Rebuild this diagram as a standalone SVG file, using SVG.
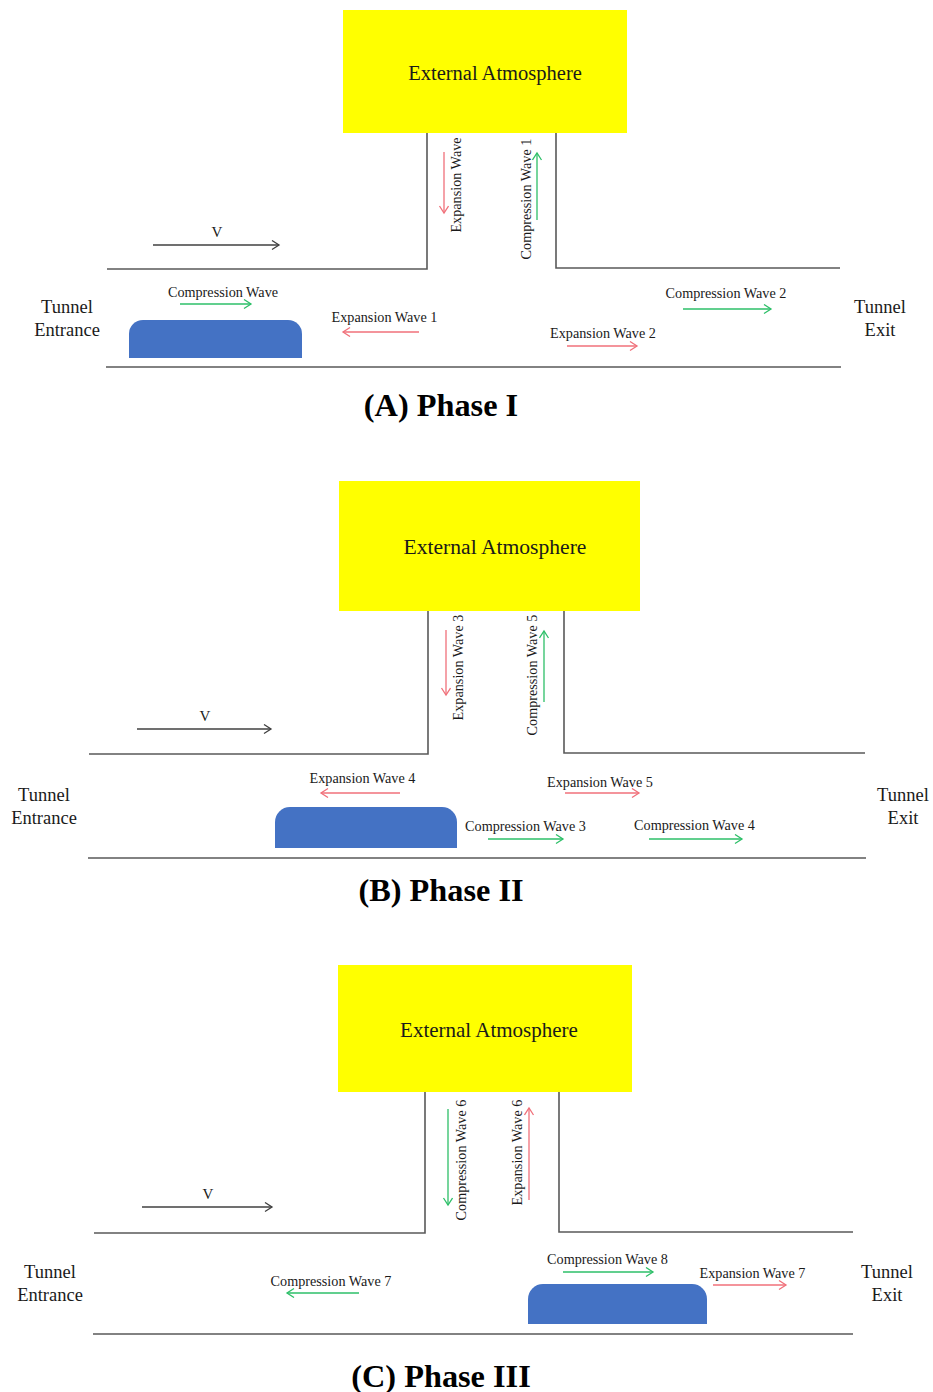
<svg xmlns="http://www.w3.org/2000/svg" width="933" height="1392" viewBox="0 0 933 1392">
<style>
.wall{stroke:#595959;stroke-width:1.6;fill:none}
.atm{fill:#ffff00}
.train{fill:#4472c4}
.t{font-family:"Liberation Serif","Times New Roman",serif;fill:#1a1a1a}
.big{font-size:20.5px;text-anchor:middle}
.lbl{font-size:14.2px;text-anchor:middle}
.side{font-size:18.5px;text-anchor:middle}
.title{font-size:32.3px;font-weight:bold;text-anchor:middle;fill:#000}
.v{font-size:15px;text-anchor:middle}
.ar{stroke:#f0707a;stroke-width:1.3;fill:none;marker-end:url(#mr)}
.ag{stroke:#2dbf68;stroke-width:1.3;fill:none;marker-end:url(#mg)}
.ak{stroke:#404040;stroke-width:1.3;fill:none;marker-end:url(#mk)}
</style>
<defs>
<marker id="mr" markerUnits="userSpaceOnUse" markerWidth="12" markerHeight="12" refX="8" refY="5" orient="auto"><path d="M1,0.5 L8,5 L1,9.5" fill="none" stroke="#f0707a" stroke-width="1.3"/></marker>
<marker id="mg" markerUnits="userSpaceOnUse" markerWidth="12" markerHeight="12" refX="8" refY="5" orient="auto"><path d="M1,0.5 L8,5 L1,9.5" fill="none" stroke="#2dbf68" stroke-width="1.3"/></marker>
<marker id="mk" markerUnits="userSpaceOnUse" markerWidth="12" markerHeight="12" refX="8" refY="5" orient="auto"><path d="M1,0.5 L8,5 L1,9.5" fill="none" stroke="#404040" stroke-width="1.3"/></marker>
</defs>
<rect width="933" height="1392" fill="#fff"/>

<!-- Phase A -->
<g id="phaseA">
  <g id="A-atmosphere">
    <rect class="atm" x="343" y="10" width="284" height="123"/>
    <text class="t big" x="495" y="80">External Atmosphere</text>
  </g>
  <g id="A-tunnel">
    <path class="wall" d="M107,269 H427 V133"/>
    <path class="wall" d="M556,133 V268 H840"/>
    <path class="wall" d="M106,367 H841"/>
  </g>
  <g id="A-train"><path class="train" d="M129,358 V334 A14,14 0 0 1 143,320 H288 A14,14 0 0 1 302,334 V358 Z"/></g>
  <g id="A-entrance"><text class="t side" x="67" y="313">Tunnel</text><text class="t side" x="67" y="336">Entrance</text></g>
  <g id="A-exit"><text class="t side" x="880" y="313">Tunnel</text><text class="t side" x="880" y="336">Exit</text></g>
  <g id="A-labels">
    <text class="t v" x="217" y="237">V</text>
    <text class="t lbl" x="223" y="297">Compression Wave</text>
    <text class="t lbl" x="384.5" y="322">Expansion Wave 1</text>
    <text class="t lbl" x="726" y="298">Compression Wave 2</text>
    <text class="t lbl" x="603" y="338">Expansion Wave 2</text>
    <text class="t lbl" transform="translate(461,185) rotate(-90)">Expansion Wave</text>
    <text class="t lbl" transform="translate(531,199) rotate(-90)">Compression Wave 1</text>
  </g>
  <g id="A-title"><text class="t title" x="441" y="416">(A) Phase I</text></g>
</g>

<!-- Phase B -->
<g id="phaseB">
  <g id="B-atmosphere">
    <rect class="atm" x="339" y="481" width="301" height="130"/>
    <text class="t big" x="495" y="554" style="font-size:21.6px">External Atmosphere</text>
  </g>
  <g id="B-tunnel">
    <path class="wall" d="M89,754 H428 V611"/>
    <path class="wall" d="M564,611 V753 H865"/>
    <path class="wall" d="M88,858 H866"/>
  </g>
  <g id="B-train"><path class="train" d="M275,848 V822 A15,15 0 0 1 290,807 H442 A15,15 0 0 1 457,822 V848 Z"/></g>
  <g id="B-entrance"><text class="t side" x="44" y="801">Tunnel</text><text class="t side" x="44" y="824">Entrance</text></g>
  <g id="B-exit"><text class="t side" x="903" y="801">Tunnel</text><text class="t side" x="903" y="824">Exit</text></g>
  <g id="B-labels">
    <text class="t v" x="205" y="721">V</text>
    <text class="t lbl" x="362.5" y="783">Expansion Wave 4</text>
    <text class="t lbl" x="600" y="787">Expansion Wave 5</text>
    <text class="t lbl" x="525.5" y="831">Compression Wave 3</text>
    <text class="t lbl" x="694.5" y="830">Compression Wave 4</text>
    <text class="t lbl" transform="translate(463,667.5) rotate(-90)">Expansion Wave 3</text>
    <text class="t lbl" transform="translate(537,675) rotate(-90)">Compression Wave 5</text>
  </g>
  <g id="B-title"><text class="t title" x="441" y="901">(B) Phase II</text></g>
</g>

<!-- Phase C -->
<g id="phaseC">
  <g id="C-atmosphere">
    <rect class="atm" x="338" y="965" width="294" height="127"/>
    <text class="t big" x="489" y="1037" style="font-size:21px">External Atmosphere</text>
  </g>
  <g id="C-tunnel">
    <path class="wall" d="M94,1233 H425 V1092"/>
    <path class="wall" d="M559,1092 V1232 H853"/>
    <path class="wall" d="M93,1334 H853"/>
  </g>
  <g id="C-train"><path class="train" d="M528,1324 V1299 A15,15 0 0 1 543,1284 H692 A15,15 0 0 1 707,1299 V1324 Z"/></g>
  <g id="C-entrance"><text class="t side" x="50" y="1278">Tunnel</text><text class="t side" x="50" y="1301">Entrance</text></g>
  <g id="C-exit"><text class="t side" x="887" y="1278">Tunnel</text><text class="t side" x="887" y="1301">Exit</text></g>
  <g id="C-labels">
    <text class="t v" x="208" y="1199">V</text>
    <text class="t lbl" x="331" y="1286">Compression Wave 7</text>
    <text class="t lbl" x="607.5" y="1264">Compression Wave 8</text>
    <text class="t lbl" x="752.5" y="1278">Expansion Wave 7</text>
    <text class="t lbl" transform="translate(466,1160) rotate(-90)">Compression Wave 6</text>
    <text class="t lbl" transform="translate(522,1152.5) rotate(-90)">Expansion Wave 6</text>
  </g>
  <g id="C-title"><text class="t title" x="441" y="1387">(C) Phase III</text></g>
</g>

<g id="connectors">
  <!-- A -->
  <line class="ak" x1="153" y1="245" x2="279" y2="245"/>
  <line class="ag" x1="180" y1="304" x2="251" y2="304"/>
  <line class="ar" x1="419" y1="332" x2="343" y2="332"/>
  <line class="ag" x1="683" y1="309" x2="771" y2="309"/>
  <line class="ar" x1="567" y1="346" x2="637" y2="346"/>
  <line class="ar" x1="444" y1="152" x2="444" y2="213"/>
  <line class="ag" x1="537" y1="220" x2="537" y2="153"/>
  <!-- B -->
  <line class="ak" x1="137" y1="729" x2="271" y2="729"/>
  <line class="ar" x1="400" y1="793" x2="321" y2="793"/>
  <line class="ar" x1="565" y1="793" x2="639" y2="793"/>
  <line class="ag" x1="488" y1="839" x2="563" y2="839"/>
  <line class="ag" x1="649" y1="839" x2="742" y2="839"/>
  <line class="ar" x1="446" y1="630" x2="446" y2="695"/>
  <line class="ag" x1="544" y1="702" x2="544" y2="631"/>
  <!-- C -->
  <line class="ak" x1="142" y1="1207" x2="272" y2="1207"/>
  <line class="ag" x1="359" y1="1293" x2="287" y2="1293"/>
  <line class="ag" x1="563" y1="1272" x2="653" y2="1272"/>
  <line class="ar" x1="713" y1="1285" x2="786" y2="1285"/>
  <line class="ag" x1="448" y1="1109" x2="448" y2="1205"/>
  <line class="ar" x1="529" y1="1200" x2="529" y2="1108"/>
</g>
</svg>
